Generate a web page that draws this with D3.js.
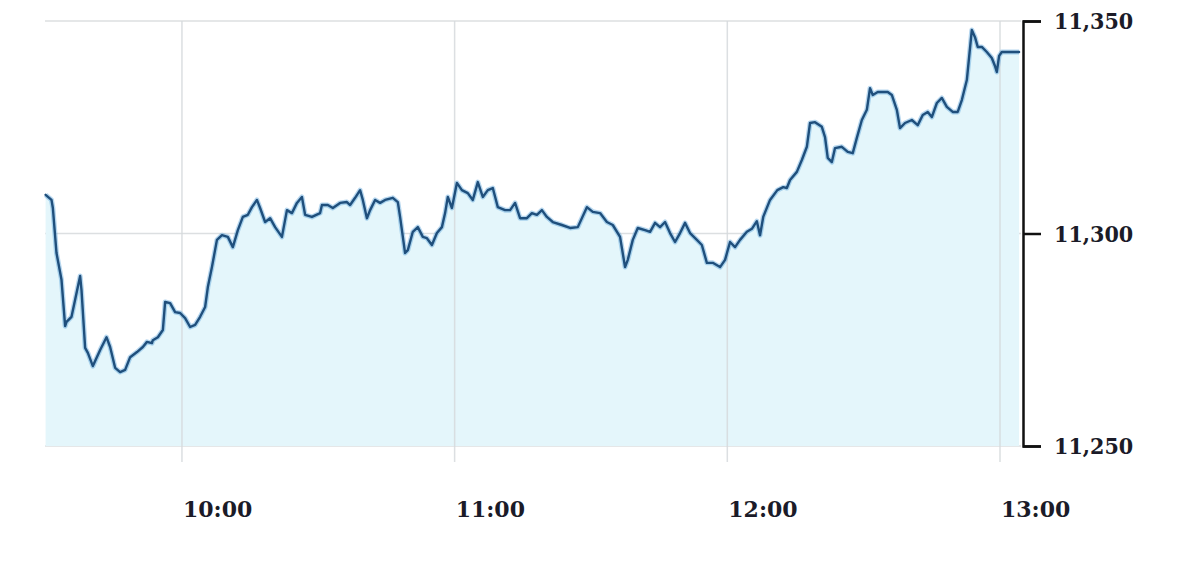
<!DOCTYPE html>
<html>
<head>
<meta charset="utf-8">
<script src="https://cdn.jsdelivr.net/npm/d3@7"></script>
<style>
  html, body { margin: 0; padding: 0; background: #ffffff; }
  svg { display: block; }
  .xlab { font-family: "DejaVu Serif", serif; font-weight: bold; font-size: 22px; fill: #1b1b28; }
  .ylab { font-family: "DejaVu Serif Condensed", "DejaVu Serif", serif; font-stretch: condensed; font-weight: bold; font-size: 23px; fill: #1b1b28; }
</style>
</head>
<body>
<svg id="chart" width="1200" height="562"></svg>
<script>
// Minutes after the 09:30 open
const minutes = [0,1.3,1.6,2.4,3.5,4.3,4.6,5.7,7.6,7.9,8.7,9.3,10.4,12.0,13.4,14.2,15.3,16.4,17.5,18.6,
  20.1,21.4,22.3,23.4,23.6,24.7,25.8,26.3,27.4,28.5,29.6,30.7,31.8,32.9,34.0,35.1,35.7,36.6,37.7,38.8,
  40.1,41.2,42.3,43.4,44.5,45.4,46.5,47.2,48.3,49.4,50.5,52.0,53.1,54.2,55.3,56.4,57.1,58.6,60.4,60.8,
  62.1,63.2,64.8,66.3,67.0,68.1,69.2,69.8,70.7,71.4,72.5,73.6,74.7,76.4,77.5,78.0,79.1,79.7,80.8,81.9,
  83.0,83.9,85.0,86.1,87.2,87.9,88.5,89.4,90.5,91.6,92.9,94.0,95.1,96.2,97.3,98.4,99.5,101.1,102.2,103.3,
  104.4,105.9,107.0,108.1,109.2,110.3,111.6,113.6,115.4,117.1,119.1,120.4,122.0,123.5,124.8,126.4,127.5,128.1,129.2,130.3,
  131.9,133.0,134.1,135.2,136.3,137.4,138.5,139.6,140.7,141.8,143.3,144.4,145.5,146.8,148.4,149.5,150.6,151.7,152.8,154.3,
  155.4,156.5,157.2,157.9,159.4,161.0,162.3,163.1,163.8,165.3,166.4,167.5,168.2,169.3,170.8,171.5,172.1,173.0,173.7,175.2,
  176.5,177.6,178.5,179.6,180.7,181.4,182.0,183.1,185.3,186.2,187.3,188.0,189.1,190.6,191.9,193.0,194.1,195.0,196.1,197.2,
  198.3,199.6,200.7,201.6,202.7,203.8,204.5,205.1,206.0,207.1,208.2,208.9,209.3,209.8,210.4,214.2];

const values = [11309.1,11307.9,11306.0,11295.4,11289.1,11278.2,11279.2,11280.4,11290.0,11286.7,11273.1,11271.9,11268.8,11272.6,11275.6,11273.3,11268.4,11267.4,11267.9,11270.9,
  11272.1,11273.3,11274.5,11274.2,11274.9,11275.6,11277.3,11283.9,11283.6,11281.5,11281.3,11280.1,11278.0,11278.5,11280.4,11282.7,11287.4,11292.1,11298.5,11299.6,
  11299.2,11296.8,11300.8,11303.9,11304.4,11306.2,11307.9,11306.0,11302.7,11303.6,11301.5,11299.2,11305.5,11304.8,11307.2,11308.6,11304.4,11303.9,11304.8,11306.7,
  11306.7,11306.0,11307.2,11307.4,11306.7,11308.4,11310.2,11307.9,11303.6,11305.5,11307.9,11307.2,11307.9,11308.4,11307.4,11303.9,11295.4,11296.1,11300.4,11301.5,
  11299.2,11298.9,11297.3,11300.1,11301.5,11304.8,11308.6,11306.0,11311.9,11310.2,11309.5,11307.9,11312.1,11308.6,11310.2,11310.7,11306.2,11305.5,11305.5,11307.2,
  11303.6,11303.6,11304.8,11304.4,11305.5,11303.9,11302.7,11302.0,11301.3,11301.5,11306.2,11305.1,11304.8,11302.7,11302.0,11299.2,11292.1,11293.8,11298.5,11301.3,
  11300.8,11300.4,11302.5,11301.5,11302.7,11300.1,11298.0,11300.1,11302.5,11300.1,11298.5,11297.3,11293.1,11293.1,11292.1,11293.8,11298.0,11296.8,11298.5,11300.4,
  11301.1,11302.9,11299.6,11303.9,11307.9,11310.2,11310.9,11310.7,11312.6,11314.5,11317.3,11320.4,11326.0,11326.2,11325.1,11322.7,11317.8,11316.8,11320.1,11320.4,
  11319.2,11318.9,11322.5,11326.7,11329.1,11334.2,11332.6,11333.3,11333.3,11332.6,11329.1,11324.8,11326.0,11326.7,11325.5,11327.9,11328.6,11327.4,11330.7,11331.9,
  11329.8,11328.6,11328.6,11331.4,11336.1,11347.9,11346.2,11343.9,11343.9,11342.7,11341.3,11339.4,11338.0,11341.8,11342.7,11342.7];

const xTickLabels = ["10:00", "11:00", "12:00", "13:00"];
const yTickValues = [11250, 11300, 11350];

const open = new Date(2020, 0, 6, 9, 30);
const data = minutes.map((m, i) => ({ t: new Date(open.getTime() + m * 60000), v: values[i] }));
const xTicks = xTickLabels.map(s => { const [h, mm] = s.split(":").map(Number); return new Date(2020, 0, 6, h, mm); });

const svg = d3.select("#chart");
const x = d3.scaleTime().domain([open, new Date(2020, 0, 6, 13, 0)]).range([45.6, 1000]);
const y = d3.scaleLinear().domain([11250, 11350]).range([446, 21]);
const xLeft = 45, xRight = 1021;

// horizontal grid
svg.append("g").selectAll("line").data(yTickValues).join("line")
  .attr("x1", xLeft).attr("x2", xRight)
  .attr("y1", d => y(d)).attr("y2", d => y(d))
  .attr("stroke", "#dcdfe1").attr("stroke-width", 1.5);

// area
const area = d3.area().x(d => x(d.t)).y0(y(11250)).y1(d => y(d.v));
svg.append("path").datum(data).attr("d", area).attr("fill", "#e4f6fb");

// vertical grid
svg.append("g").selectAll("line").data(xTicks).join("line")
  .attr("x1", d => x(d)).attr("x2", d => x(d))
  .attr("y1", y(11350)).attr("y2", 462)
  .attr("stroke", "#d6dadd").attr("stroke-width", 1.5).attr("opacity", 0.85);

// line with soft glow
const line = d3.line().x(d => x(d.t)).y(d => y(d.v));
svg.append("path").datum(data).attr("d", line)
  .attr("fill", "none").attr("stroke", "#4b9ad6").attr("stroke-width", 5)
  .attr("stroke-opacity", 0.4).attr("stroke-linejoin", "round");
svg.append("path").datum(data).attr("d", line)
  .attr("fill", "none").attr("stroke", "#1f4f7c").attr("stroke-width", 2.4)
  .attr("stroke-linejoin", "round").attr("stroke-linecap", "round");

// right axis
const yAxis = d3.axisRight(y).tickValues(yTickValues).tickSize(18).tickSizeOuter(18).tickFormat(() => "");
const ga = svg.append("g").attr("transform", "translate(1023,0)").call(yAxis);
ga.select(".domain").attr("stroke", "#111").attr("stroke-width", 2.5);
ga.selectAll(".tick line").attr("stroke", "#111").attr("stroke-width", 2.5);

svg.append("g").selectAll("text").data(yTickValues).join("text")
  .attr("class", "ylab")
  .attr("x", 1054).attr("y", d => y(d)).attr("dy", "0.36em")
  .text(d => d3.format(",")(d));

// x labels
svg.append("g").selectAll("text").data(xTicks).join("text")
  .attr("class", "xlab")
  .attr("x", d => x(d) + 1).attr("y", 517)
  .text((d, i) => xTickLabels[i]);
</script>
</body>
</html>
